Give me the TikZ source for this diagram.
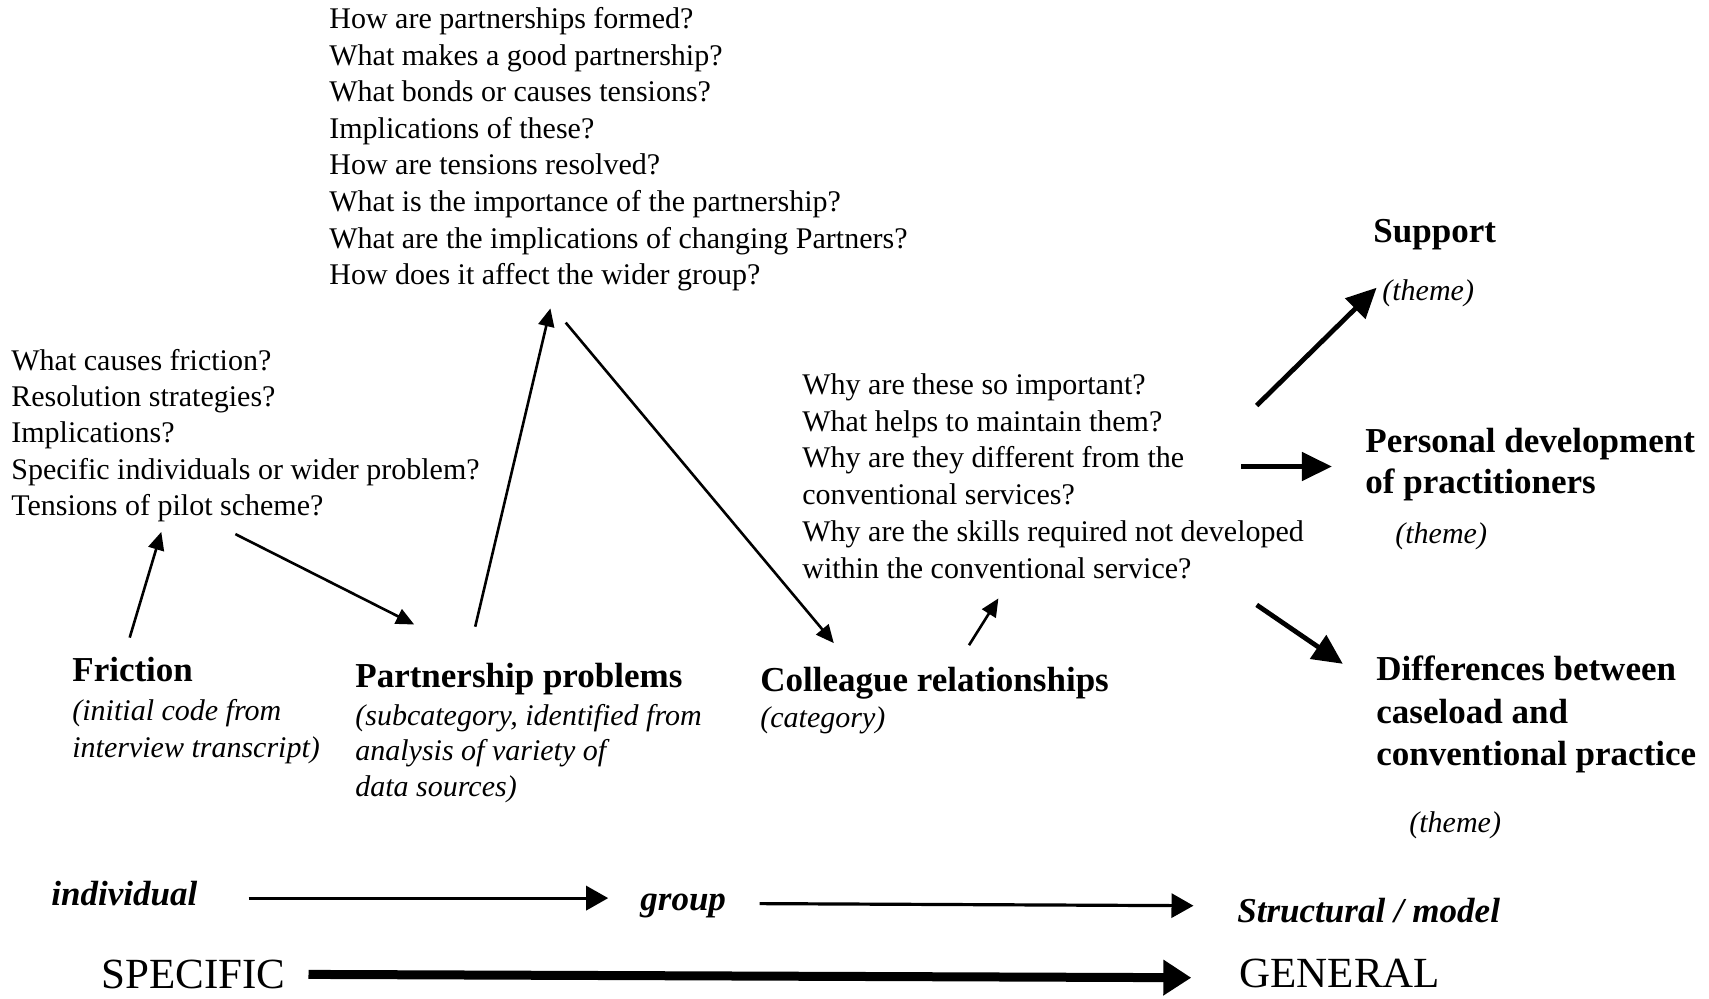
\documentclass[tikz,border=0pt]{standalone}
\usepackage{fontspec}
\setmainfont{Liberation Serif}
\usetikzlibrary{arrows.meta}
\tikzset{
  q/.style={anchor=north west,inner sep=0pt,align=left,font=\fontsize{15}{18.3}\selectfont},
  ttl/.style={anchor=west,inner sep=0pt,font=\fontsize{17.5}{20}\selectfont\bfseries},
  ttlm/.style={anchor=north west,inner sep=0pt,align=left,font=\fontsize{17.5}{20.2}\selectfont\bfseries},
  note/.style={anchor=west,inner sep=0pt,font=\fontsize{15}{18}\selectfont\itshape},
  notem/.style={anchor=north west,inner sep=0pt,align=left,font=\fontsize{15}{18}\selectfont\itshape},
  lvl/.style={anchor=west,inner sep=0pt,font=\fontsize{17.5}{20}\selectfont\bfseries\itshape},
  big/.style={anchor=west,inner sep=0pt,font=\fontsize{21.5}{24}\selectfont},
  thin/.style={line width=1.3pt,-{Triangle[length=9pt,width=8pt]}},
  thick/.style={line width=2.4pt,-{Triangle[length=15pt,width=14pt]}},
  mid/.style={line width=1.6pt,-{Triangle[length=11pt,width=12pt]}},
  heavy/.style={line width=4.5pt,-{Triangle[length=14pt,width=17pt]}},
}
\begin{document}
\begin{tikzpicture}[x=0.5pt,y=-0.5pt]
\useasboundingbox[fill=white] (0,0) rectangle (1709,998);
% question blocks
\node[q] (top) at (329,7) {How are partnerships formed?\\What makes a good partnership?\\What bonds or causes tensions?\\Implications of these?\\How are tensions resolved?\\What is the importance of the partnership?\\What are the implications of changing Partners?\\How does it affect the wider group?};
\node[q,font=\fontsize{15}{18.1}\selectfont] (left) at (11,349) {What causes friction?\\Resolution strategies?\\Implications?\\Specific individuals or wider problem?\\Tensions of pilot scheme?};
\node[q,font=\fontsize{15}{18.4}\selectfont] (midq) at (802,373) {Why are these so important?\\What helps to maintain them?\\Why are they different from the\\conventional services?\\Why are the skills required not developed\\within the conventional service?};
% categories
\node[ttl] (friction) at (72,670) {Friction};
\node[notem,font=\fontsize{15}{18.5}\selectfont\itshape] (frictionnote) at (72,699) {(initial code from\\interview transcript)};
\node[ttl] (pp) at (355,679.5) {Partnership problems};
\node[notem,font=\fontsize{15}{17.75}\selectfont\itshape] (ppnote) at (355,703.5) {(subcategory, identified from\\analysis of variety of\\data sources)};
\node[ttl] (coll) at (760,683.5) {Colleague relationships};
\node[note] (collnote) at (760,720) {(category)};
% themes
\node[ttl] (support) at (1373,234.5) {Support};
\node[note] (supportnote) at (1382,293) {(theme)};
\node[ttlm] (pd) at (1365,428) {Personal development\\of practitioners};
\node[note] (pdnote) at (1395,536) {(theme)};
\node[ttlm,font=\fontsize{17.5}{21.25}\selectfont\bfseries] (diff) at (1376,655.7) {Differences between\\caseload and\\conventional practice};
\node[note] (diffnote) at (1409,825) {(theme)};
% levels
\node[lvl] (indiv) at (51,894) {individual};
\node[lvl] (group) at (640,905.5) {group};
\node[lvl] (struct) at (1237,911) {Structural / model};
\node[big] (specific) at (101,974) {SPECIFIC};
\node[big] (general) at (1239,973) {GENERAL};
% arrow end points
\coordinate (fA) at (129.7,637.6);
\coordinate (fB) at (161.3,531.9);
\coordinate (lA) at (235.4,534.1);
\coordinate (pB) at (414.2,624.5);
\coordinate (pA) at (475.2,626.7);
\coordinate (tB) at (550.4,308.4);
\coordinate (tA) at (565.7,322.6);
\coordinate (cB) at (833.8,643.1);
\coordinate (cA) at (969,645.2);
\coordinate (mB) at (998.4,598.4);
\coordinate (sA) at (1256.7,405.5);
\coordinate (sB) at (1376.6,287.7);
\coordinate (dA) at (1241.4,466.5);
\coordinate (dB) at (1331.9,466.5);
\coordinate (eA) at (1256.7,604.9);
\coordinate (eB) at (1342.8,663.8);
\coordinate (iA) at (248.5,898.1);
\coordinate (iB) at (608.2,898.1);
\coordinate (gA) at (759.7,903.6);
\coordinate (gB) at (1193.5,905.7);
\coordinate (spA) at (308.5,974.4);
\coordinate (spB) at (1191.3,977.7);
% connectors
\draw[thin] (fA) -- (fB);
\draw[thin] (lA) -- (pB);
\draw[thin] (pA) -- (tB);
\draw[thin] (tA) -- (cB);
\draw[thin] (cA) -- (mB);
\draw[thick] (sA) -- (sB);
\draw[thick] (dA) -- (dB);
\draw[thick] (eA) -- (eB);
\draw[mid] (iA) -- (iB);
\draw[mid] (gA) -- (gB);
\draw[heavy] (spA) -- (spB);
\end{tikzpicture}
\end{document}
